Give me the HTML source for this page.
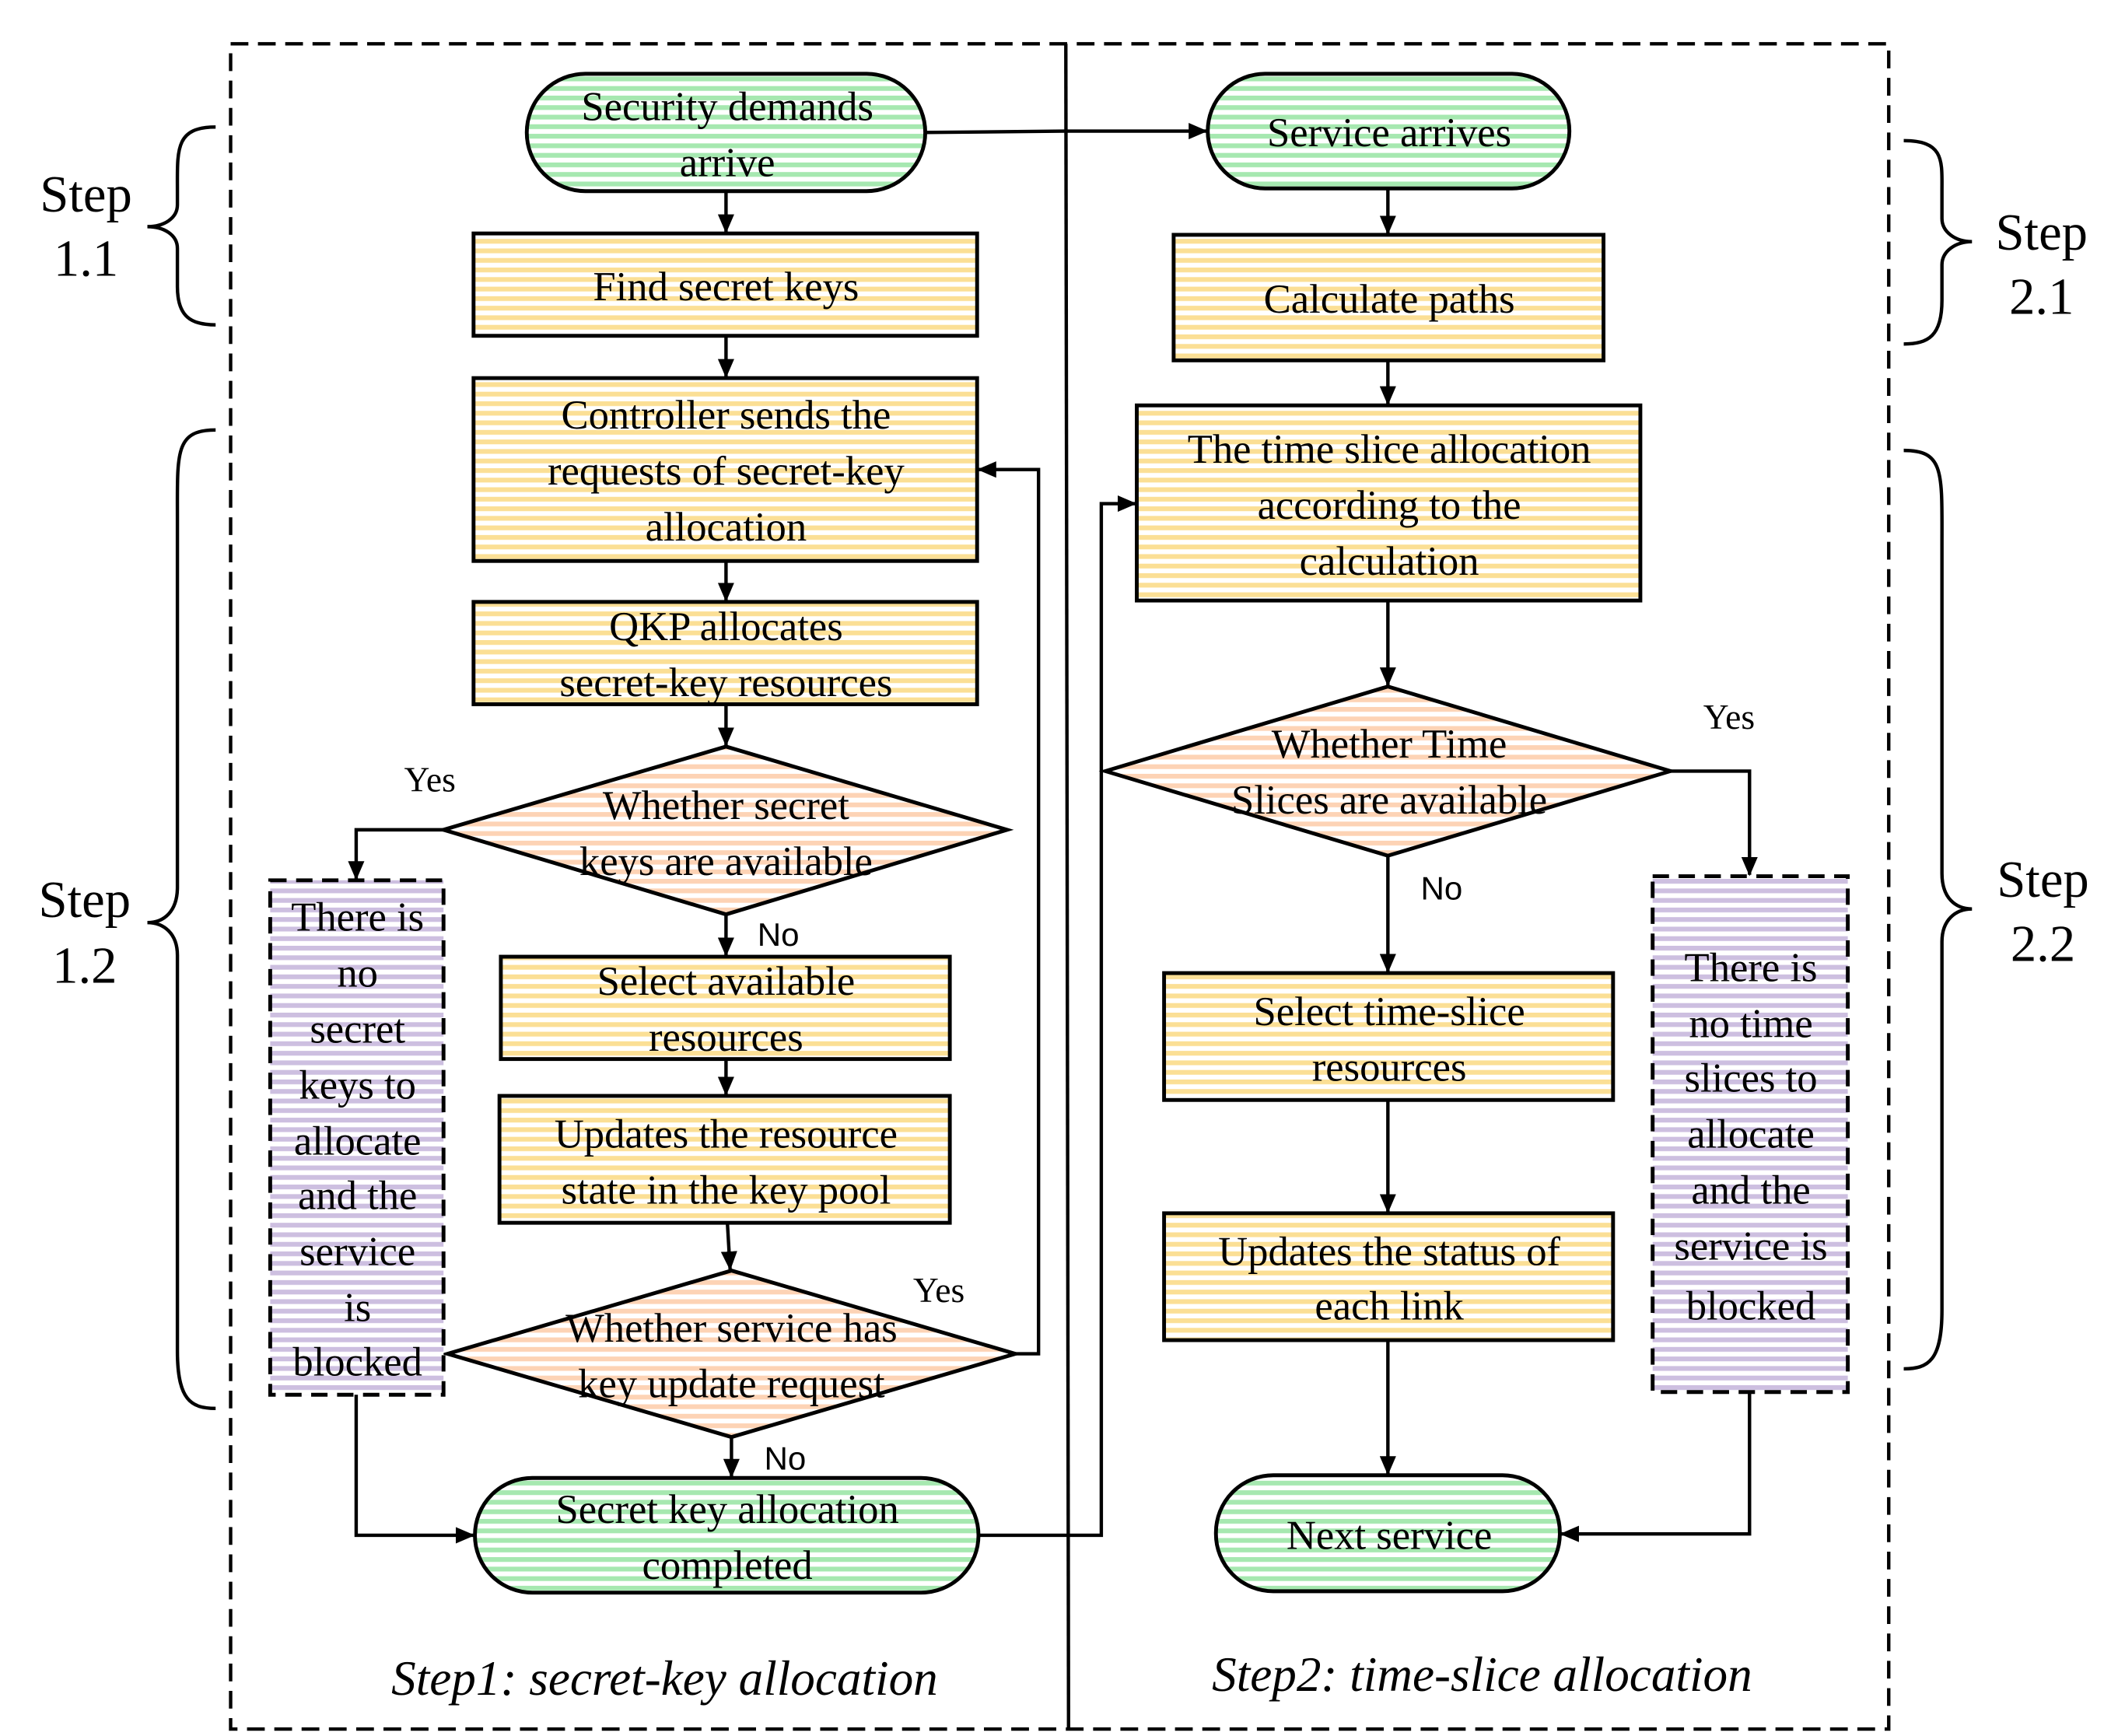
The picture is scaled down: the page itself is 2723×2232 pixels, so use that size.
<!DOCTYPE html>
<html><head><meta charset="utf-8"><style>html,body{margin:0;padding:0;background:#fff}svg{display:block}</style></head>
<body>
<svg xmlns="http://www.w3.org/2000/svg" width="2723" height="2232" viewBox="0 0 1552 1272">
<defs>
<pattern id="pY" width="8" height="7" patternUnits="userSpaceOnUse"><rect width="8" height="7" fill="#fff"/><rect width="8" height="3.5" fill="#fbdf95"/></pattern>
<pattern id="pG" width="8" height="7" patternUnits="userSpaceOnUse"><rect width="8" height="7" fill="#fff"/><rect width="8" height="3.5" fill="#a6e8b0"/></pattern>
<pattern id="pS" width="8" height="7" patternUnits="userSpaceOnUse"><rect width="8" height="7" fill="#fff"/><rect width="8" height="3.5" fill="#fdd3b5"/></pattern>
<pattern id="pP" width="8" height="7" patternUnits="userSpaceOnUse"><rect width="8" height="7" fill="#fff"/><rect width="8" height="3.5" fill="#cdbfe0"/></pattern>
<marker id="ar" markerWidth="14" markerHeight="12" refX="13" refY="6" orient="auto" markerUnits="userSpaceOnUse"><path d="M0,0 L14,6 L0,12 z" fill="#000"/></marker>
</defs>
<g fill="none" stroke="#000" stroke-width="2.5" stroke-dasharray="13,7">
<rect x="169" y="32" width="1215" height="1235"/>
</g>
<line x1="781" y1="32" x2="783" y2="1267" stroke="#000" stroke-width="2.5"/>

<g stroke="#000" stroke-width="2.8">
<rect x="386" y="54" width="292" height="86" rx="43" fill="url(#pG)"/>
<rect x="347" y="171" width="369" height="75" fill="url(#pY)"/>
<rect x="347" y="277" width="369" height="134" fill="url(#pY)"/>
<rect x="347" y="441" width="369" height="75" fill="url(#pY)"/>
<polygon points="325,608 532,547 738,608 532,670" fill="url(#pS)"/>
<rect x="367" y="701" width="329" height="75" fill="url(#pY)"/>
<rect x="366" y="803" width="330" height="93" fill="url(#pY)"/>
<polygon points="328,992 536,931 744,992 536,1053" fill="url(#pS)"/>
<rect x="348" y="1083" width="369" height="84" rx="42" fill="url(#pG)"/>
<rect x="198" y="645" width="127" height="377" fill="url(#pP)" stroke-dasharray="12,7"/>

<rect x="885" y="54" width="265" height="84" rx="42" fill="url(#pG)"/>
<rect x="860" y="172" width="315" height="92" fill="url(#pY)"/>
<rect x="833" y="297" width="369" height="143" fill="url(#pY)"/>
<polygon points="810,565 1017,503 1224,565 1017,627" fill="url(#pS)"/>
<rect x="853" y="713" width="329" height="93" fill="url(#pY)"/>
<rect x="853" y="889" width="329" height="93" fill="url(#pY)"/>
<rect x="891" y="1081" width="252" height="85" rx="42" fill="url(#pG)"/>
<rect x="1211" y="642" width="143" height="378" fill="url(#pP)" stroke-dasharray="12,7"/>
</g>

<g stroke="#000" stroke-width="2.5" fill="none" marker-end="url(#ar)">
<line x1="532" y1="140" x2="532" y2="170"/>
<line x1="532" y1="246" x2="532" y2="276"/>
<line x1="532" y1="411" x2="532" y2="440"/>
<line x1="532" y1="516" x2="532" y2="546"/>
<polyline points="325,608 261,608 261,644"/>
<line x1="532" y1="670" x2="532" y2="700"/>
<line x1="532" y1="776" x2="532" y2="802"/>
<line x1="533" y1="896" x2="535" y2="930"/>
<polyline points="744,992 761,992 761,344 717,344"/>
<line x1="536" y1="1053" x2="536" y2="1082"/>
<polyline points="261,1022 261,1125 347,1125"/>
<polyline points="717,1125 807,1125 807,369 832,369"/>
<polyline points="678,97 780,96 884,96"/>
<line x1="1017" y1="138" x2="1017" y2="171"/>
<line x1="1017" y1="264" x2="1017" y2="296"/>
<line x1="1017" y1="440" x2="1017" y2="502"/>
<polyline points="1224,565 1282,565 1282,641"/>
<line x1="1017" y1="627" x2="1017" y2="712"/>
<line x1="1017" y1="806" x2="1017" y2="888"/>
<line x1="1017" y1="982" x2="1017" y2="1080"/>
<polyline points="1282,1020 1282,1124 1144,1124"/>
</g>

<g stroke="#000" stroke-width="2.5" fill="none">
<path d="M158,93 C128,93 130,110 130,140 L130,150 C130,160 120,166 108,166 C120,166 130,172 130,182 L130,210 C130,232 140,238 158,238"/>
<path d="M158,315 C128,315 130,332 130,380 L130,650 C130,668 120,676 108,676 C120,676 130,684 130,700 L130,990 C130,1026 140,1032 158,1032"/>
<path d="M1395,103 C1425,103 1423,118 1423,140 L1423,160 C1423,170 1433,177 1445,177 C1433,177 1423,184 1423,194 L1423,220 C1423,246 1413,252 1395,252"/>
<path d="M1395,330 C1425,330 1423,346 1423,400 L1423,640 C1423,658 1433,666 1445,666 C1433,666 1423,674 1423,690 L1423,960 C1423,997 1413,1003 1395,1003"/>
</g>

<g font-family="Liberation Serif, serif" font-size="30" text-anchor="middle" fill="#000">
<text x="533" y="88">Security demands</text><text x="533" y="129">arrive</text>
<text x="532" y="220">Find secret keys</text>
<text x="532" y="314">Controller sends the</text><text x="532" y="355">requests of secret-key</text><text x="532" y="396">allocation</text>
<text x="532" y="469">QKP allocates</text><text x="532" y="510">secret-key resources</text>
<text x="532" y="600">Whether secret</text><text x="532" y="641">keys are available</text>
<text x="532" y="729">Select available</text><text x="532" y="770">resources</text>
<text x="532" y="841">Updates the resource</text><text x="532" y="882">state in the key pool</text>
<text x="536" y="983">Whether service has</text><text x="536" y="1024">key update request</text>
<text x="533" y="1116">Secret key allocation</text><text x="533" y="1157">completed</text>
<text x="262" y="682">There is</text><text x="262" y="723">no</text><text x="262" y="764">secret</text><text x="262" y="805">keys to</text><text x="262" y="846">allocate</text><text x="262" y="886">and the</text><text x="262" y="927">service</text><text x="262" y="968">is</text><text x="262" y="1008">blocked</text>
<text x="1018" y="107">Service arrives</text>
<text x="1018" y="229">Calculate paths</text>
<text x="1018" y="339">The time slice allocation</text><text x="1018" y="380">according to the</text><text x="1018" y="421">calculation</text>
<text x="1018" y="555">Whether Time</text><text x="1018" y="596">Slices are available</text>
<text x="1018" y="751">Select time-slice</text><text x="1018" y="792">resources</text>
<text x="1018" y="927">Updates the status of</text><text x="1018" y="967">each link</text>
<text x="1018" y="1135">Next service</text>
<text x="1283" y="719">There is</text><text x="1283" y="760">no time</text><text x="1283" y="800">slices to</text><text x="1283" y="841">allocate</text><text x="1283" y="882">and the</text><text x="1283" y="923">service is</text><text x="1283" y="967">blocked</text>
<text x="315" y="580" font-size="26">Yes</text>
<text x="688" y="954" font-size="26">Yes</text>
<text x="1267" y="534" font-size="26">Yes</text>
</g>
<g font-family="Liberation Sans, sans-serif" font-size="24" fill="#000">
<text x="555" y="693">No</text>
<text x="560" y="1077">No</text>
<text x="1041" y="659">No</text>
</g>
<g font-family="Liberation Serif, serif" font-size="38" text-anchor="middle" fill="#000">
<text x="63" y="155">Step</text><text x="63" y="202">1.1</text>
<text x="62" y="672">Step</text><text x="62" y="720">1.2</text>
<text x="1496" y="183">Step</text><text x="1496" y="230">2.1</text>
<text x="1497" y="657">Step</text><text x="1497" y="704">2.2</text>
</g>
<g font-family="Liberation Serif, serif" font-size="36" font-style="italic" text-anchor="middle" fill="#000">
<text x="487" y="1242">Step1: secret-key allocation</text>
<text x="1086" y="1239">Step2: time-slice allocation</text>
</g>
</svg>
</body></html>
